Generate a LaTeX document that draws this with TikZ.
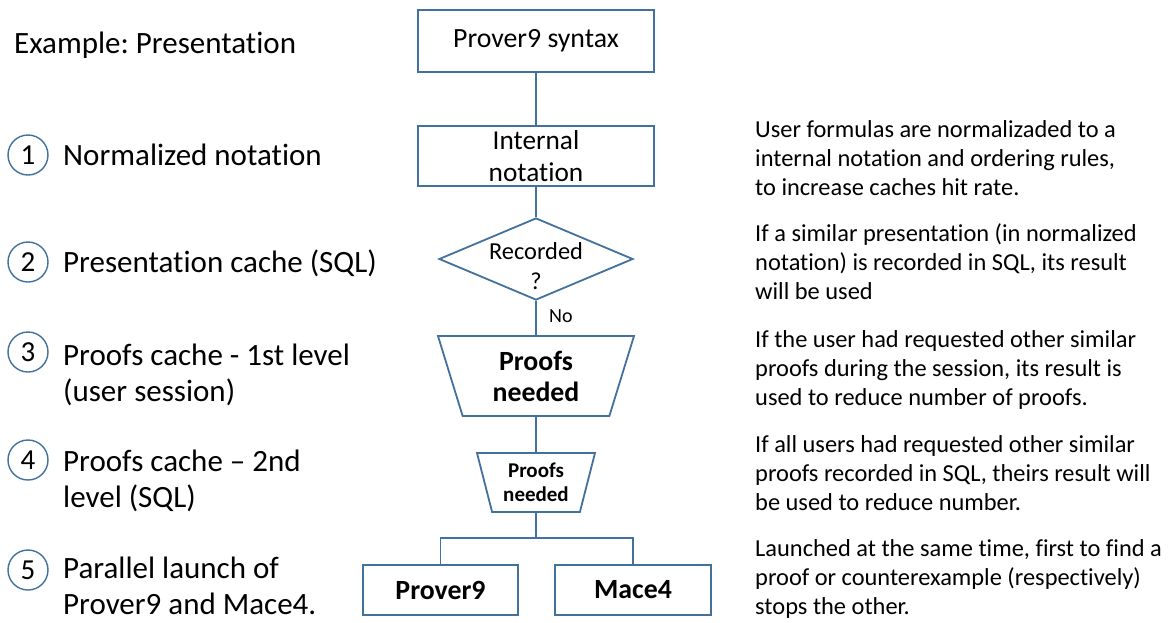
\documentclass[tikz,border=0pt]{standalone}
\usepackage{fontspec}
\setmainfont{Carlito}[Ligatures=NoCommon]
\usetikzlibrary{shapes.geometric}
\definecolor{shapeblue}{HTML}{41719C}
\newcommand{\fs}[2]{\fontsize{#1}{#2}\selectfont}
\frenchspacing
\begin{document}
\begin{tikzpicture}[x=1pt,y=-1pt,
  box/.style={draw=shapeblue, line width=1.8pt, rectangle, inner sep=0pt, align=center},
  dia/.style={draw=shapeblue, line width=1.8pt, diamond, inner sep=0pt},
  trap/.style={draw=shapeblue, line width=1.8pt, trapezium, shape border rotate=180,
     trapezium stretches body, inner sep=0pt, align=center},
  conn/.style={draw=shapeblue, line width=1.8pt},
  num/.style={circle, draw=shapeblue, line width=1.4pt, minimum size=40pt, inner sep=0pt, font=\fs{29}{32}},
  lefttxt/.style={anchor=base west, inner sep=0pt, align=left, font=\fs{31}{36}},
  righttxt/.style={anchor=base west, inner sep=0pt, align=left, font=\fs{24.4}{29}}
]
\useasboundingbox (0,0) rectangle (1168,622);

% flowchart
\node[box, minimum width=236pt, minimum height=62pt, font=\fs{27.8}{32}] (syn) at (536,41) {Prover9 syntax};
\node[box, minimum width=236pt, minimum height=60pt, font=\fs{27.3}{32}] (int) at (536,156) {Internal\\notation};
\node[dia, minimum width=194pt, minimum height=82pt] (rec) at (536,259) {};
\node[inner sep=0pt, align=center, font=\fs{24.4}{30}] (rectxt) at (536,266) {Recorded\\?};
\node[trap, trapezium left angle=64, trapezium right angle=64, minimum width=196pt, minimum height=80pt,
      font=\bfseries\fs{27.8}{31}] (pn1) at (536,376) {Proofs\\needed};
\node[trap, trapezium left angle=68.7, trapezium right angle=68.7, minimum width=118pt, minimum height=59pt,
      font=\bfseries\fs{21}{24}] (pn2) at (536,482.5) {Proofs\\needed};
\node[box, minimum width=155pt, minimum height=50pt, font=\bfseries\fs{27.8}{32}] (p9) at (440.5,590) {Prover9};
\node[box, minimum width=156pt, minimum height=50pt, font=\bfseries\fs{27.8}{32}] (m4) at (633,590) {Mace4};
\coordinate (j) at (536,538);

\draw[conn] (syn) -- (int);
\draw[conn] (int) -- (rec);
\draw[conn] (rec) -- (pn1);
\draw[conn] (pn1) -- (pn2);
\draw[conn] (pn2) -- (j);
\draw[conn] (j) -| (p9);
\draw[conn] (j) -| (m4);
\node[anchor=base west, inner sep=0pt, font=\fs{20}{24}] (no) at (549,322) {No};

% left column
\node[lefttxt] (title) at (14,53) {Example: Presentation};
\node[num] (c1) at (28,155) {1};
\node[lefttxt] (t1) at (63,165) {Normalized notation};
\node[num] (c2) at (28,262) {2};
\node[lefttxt] (t2) at (63,272) {Presentation cache (SQL)};
\node[num] (c3) at (28,352) {3};
\node[lefttxt] (t3) at (63,401) {Proofs cache - 1st level\\(user session)};
\node[num] (c4) at (28,460) {4};
\node[lefttxt] (t4) at (63,507) {Proofs cache -- 2nd\\level (SQL)};
\node[num] (c5) at (28,570) {5};
\node[lefttxt] (t5) at (63,614) {Parallel launch of\\Prover9 and Mace4.};

% right column
\node[righttxt] (r1) at (755,195) {User formulas are normalizaded to a\\internal notation and ordering rules,\\to increase caches hit rate.};
\node[righttxt] (r2) at (755,299) {If a similar presentation (in normalized\\notation) is recorded in SQL, its result\\will be used};
\node[righttxt] (r3) at (755,405) {If the user had requested other similar\\proofs during the session, its result is\\used to reduce number of proofs.};
\node[righttxt] (r4) at (755,510) {If all users had requested other similar\\proofs recorded in SQL, theirs result will\\be used to reduce number.};
\node[righttxt] (r5) at (755,614) {Launched at the same time, first to find a\\proof or counterexample (respectively)\\stops the other.};
\end{tikzpicture}
\end{document}
